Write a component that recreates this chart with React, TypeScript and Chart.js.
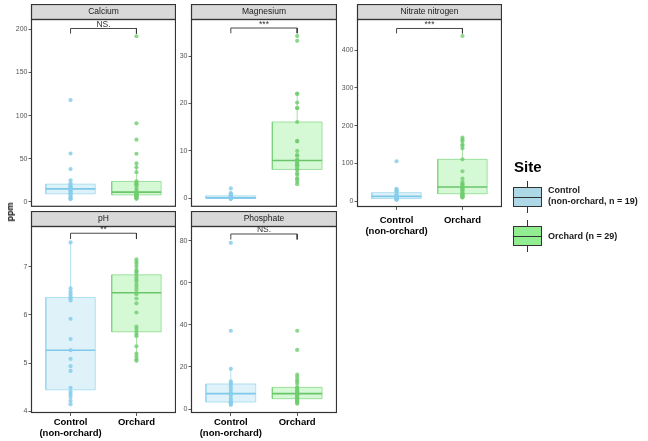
import React, { useEffect, useRef } from "react";
import { Chart, registerables } from "chart.js";

Chart.register(...registerables);

// Site groups, drawn at x = 1 and x = 2
const siteLabels: string[][] = [["Control", "(non-orchard)"], ["Orchard"]];

// Soil measurements per site (Control n = 19, Orchard n = 29)
const calciumControl = [3, 4, 5, 7, 9, 9.6, 10, 12, 13.5, 15, 16, 17, 18, 19.5, 21.5, 25, 38, 56, 118];
const calciumOrchard = [3.5, 4, 5, 5.8, 6.5, 7, 7.7, 8, 8.5, 9, 9.5, 10, 10.5, 11, 11.2, 13.5, 16, 19, 20, 21, 22.5, 23.6, 34.4, 40, 44.5, 55.7, 72, 91, 192];

const magnesiumControl = [0, 0, 0, 0, 0, 0, 0, 0, 0, 0.1, 0.2, 0.3, 0.4, 0.5, 0.6, 0.7, 1.0, 1.1, 2.1];
const magnesiumOrchard = [3, 3.5, 4, 4.2, 5, 5.3, 6, 6.1, 6.5, 7, 7, 7.2, 7.5, 7.8, 8, 8.2, 9, 9.1, 10, 12, 12.1, 16.1, 19, 19.1, 20.2, 22, 22.1, 33.2, 34.2];

const nitrateControl = [4, 5, 6, 7, 7, 7.5, 8, 9, 10, 13, 14, 15, 17, 20, 26, 28, 30, 33, 106];
const nitrateOrchard = [10, 11.5, 12, 13, 15, 17, 19, 20, 22, 25, 29, 31, 33, 36, 38, 41.5, 44, 47, 51, 60, 79.5, 111, 140, 146.6, 150, 159, 163, 168.6, 437];

const phControl = [4.15, 4.22, 4.3, 4.36, 4.41, 4.49, 4.84, 4.94, 5.09, 5.27, 5.5, 5.92, 6.3, 6.34, 6.38, 6.43, 6.48, 6.55, 7.5];
const phOrchard = [5.05, 5.08, 5.14, 5.2, 5.35, 5.56, 5.6, 5.65, 5.71, 5.76, 6.05, 6.24, 6.34, 6.43, 6.46, 6.53, 6.59, 6.64, 6.7, 6.73, 6.78, 6.83, 6.88, 6.9, 6.93, 7.0, 7.06, 7.1, 7.15];

const phosphateControl = [1.9, 2.5, 2.8, 3.0, 3.2, 3.4, 4.4, 5.2, 6.5, 7.3, 7.9, 9.2, 10.3, 11.4, 12.4, 13.1, 19.1, 37.2, 79];
const phosphateOrchard = [2.5, 3.0, 3.3, 3.6, 4.0, 4.4, 4.7, 4.9, 5.3, 5.7, 6.2, 6.5, 6.8, 7.0, 7.3, 7.6, 7.9, 8.4, 8.9, 9.5, 10.0, 10.3, 12, 13.1, 13.9, 15.2, 16.3, 28.1, 37.2];

// Y axis tick labels
const calciumTicks = [0, 50, 100, 150, 200];
const magnesiumTicks = [0, 10, 20, 30];
const nitrateTicks = [0, 100, 200, 300, 400];
const phTicks = [4, 5, 6, 7];
const phosphateTicks = [0, 20, 40, 60, 80];

// Y axis limits [min, max]
const calciumRange = [-5.8, 212];
const magnesiumRange = [-1.77, 37.8];
const nitrateRange = [-15, 482];
const phRange = [3.97, 7.84];
const phosphateRange = [-1.9, 87];

// Significance brackets: [bar height, tip end] and their labels
const calciumBracket = [201, 195];
const magnesiumBracket = [35.9, 34.8];
const nitrateBracket = [457, 444];
const phBracket = [7.69, 7.57];
const phosphateBracket = [83.2, 80.6];
const significance = ["NS.", "***", "***", "**", "NS."];

const FONT = '"Liberation Sans", Arial, sans-serif';

const CONTROL = {
  point: "rgba(135, 206, 235, 0.85)",
  fill: "rgba(135, 206, 235, 0.27)",
  edge: "rgba(135, 206, 235, 0.6)",
  median: "rgba(120, 198, 232, 0.95)",
};
const ORCHARD = {
  point: "rgba(112, 205, 112, 0.8)",
  fill: "rgba(144, 238, 144, 0.38)",
  edge: "rgba(110, 205, 110, 0.6)",
  median: "rgba(100, 195, 100, 0.95)",
};

function quantile(sorted: number[], p: number) {
  const h = (sorted.length - 1) * p;
  const lo = Math.floor(h);
  const hi = Math.min(lo + 1, sorted.length - 1);
  return sorted[lo] + (h - lo) * (sorted[hi] - sorted[lo]);
}

function boxStats(values: number[]) {
  const s = [...values].sort((a, b) => a - b);
  const q1 = quantile(s, 0.25);
  const med = quantile(s, 0.5);
  const q3 = quantile(s, 0.75);
  const iqr = q3 - q1;
  const lowW = Math.min(...s.filter((v) => v >= q1 - 1.5 * iqr));
  const highW = Math.max(...s.filter((v) => v <= q3 + 1.5 * iqr));
  return { q1, med, q3, lowW, highW };
}

function groupDatasets(values: number[], x: number, c: typeof CONTROL) {
  const b = boxStats(values);
  const hw = 0.375;
  return [
    {
      type: "scatter",
      data: values.map((v) => ({ x, y: v })),
      backgroundColor: c.point,
      borderWidth: 0,
      pointRadius: 2.1,
      order: 0,
    },
    {
      type: "line",
      data: [
        { x: x - hw, y: b.med },
        { x: x + hw, y: b.med },
      ],
      borderColor: c.median,
      borderWidth: 1.6,
      pointRadius: 0,
      fill: false,
      order: 1,
    },
    {
      type: "line",
      data: [
        { x: x - hw, y: b.q1 },
        { x: x + hw, y: b.q1 },
        { x: x + hw, y: b.q3 },
        { x: x - hw, y: b.q3 },
        { x: x - hw, y: b.q1 },
      ],
      borderColor: c.edge,
      backgroundColor: c.fill,
      borderWidth: 1,
      pointRadius: 0,
      fill: "shape",
      order: 2,
    },
    {
      type: "line",
      data: [
        { x, y: b.lowW },
        { x, y: b.q1 },
        { x, y: null },
        { x, y: b.q3 },
        { x, y: b.highW },
      ],
      borderColor: c.edge,
      borderWidth: 1,
      pointRadius: 0,
      spanGaps: false,
      fill: false,
      order: 3,
    },
  ];
}

const panelDeco = {
  id: "panelDeco",
  afterDraw(chart: any, _args: any, opts: any) {
    const { ctx, chartArea: a, scales } = chart;
    ctx.save();
    // facet strip
    ctx.fillStyle = "#D9D9D9";
    ctx.fillRect(a.left, a.top - opts.stripH, a.right - a.left, opts.stripH);
    ctx.strokeStyle = "#333";
    ctx.lineWidth = 1.2;
    ctx.strokeRect(a.left + 0.5, a.top - opts.stripH + 0.5, a.right - a.left - 1, opts.stripH);
    ctx.fillStyle = "#1A1A1A";
    ctx.font = `8.5px ${FONT}`;
    ctx.textAlign = "center";
    ctx.textBaseline = "middle";
    ctx.fillText(opts.title, (a.left + a.right) / 2, a.top - opts.stripH / 2 + 0.5);
    // panel frame
    ctx.strokeRect(a.left + 0.5, a.top + 0.5, a.right - a.left - 1, a.bottom - a.top - 1);
    // significance label above the bracket
    const xm = scales.x.getPixelForValue(1.5);
    const yb = scales.y.getPixelForValue(opts.bracketTop);
    ctx.fillStyle = "#333";
    ctx.font = `8.5px ${FONT}`;
    ctx.textBaseline = "alphabetic";
    ctx.fillText(opts.label, xm, yb - 1.5);
    ctx.restore();
  },
};

type PanelProps = {
  title: string;
  label: string;
  control: number[];
  orchard: number[];
  ticks: number[];
  range: number[];
  bracket: number[];
  left: number;
  top: number;
  width: number;
  height: number;
  axisH: number;
  labelPad: number;
};

const STRIP = 15;
const YAXIS = 30;
const BOTTOM_PAD = 5;

function Panel(p: PanelProps) {
  const ref = useRef<HTMLCanvasElement | null>(null);
  useEffect(() => {
    if (!ref.current) return;
    const showX = p.axisH > 0;
    const bracketData = [
      { x: 1, y: p.bracket[1] },
      { x: 1, y: p.bracket[0] },
      { x: 2, y: p.bracket[0] },
      { x: 2, y: p.bracket[1] },
    ];
    const chart = new Chart(ref.current, {
      type: "scatter",
      data: {
        datasets: [
          ...groupDatasets(p.control, 1, CONTROL),
          ...groupDatasets(p.orchard, 2, ORCHARD),
          {
            type: "line",
            data: bracketData,
            borderColor: "#333",
            borderWidth: 0.9,
            pointRadius: 0,
            fill: false,
            order: 0,
          },
        ] as any,
      },
      options: {
        animation: false,
        responsive: false,
        events: [],
        layout: {
          autoPadding: false,
          padding: { top: STRIP, left: 0, right: 0, bottom: showX ? 0 : BOTTOM_PAD },
        },
        plugins: {
          legend: { display: false },
          tooltip: { enabled: false },
          panelDeco: { title: p.title, label: p.label, bracketTop: p.bracket[0], stripH: STRIP },
        } as any,
        scales: {
          x: {
            type: "linear",
            min: 0.4,
            max: 2.6,
            afterBuildTicks: (s: any) => {
              s.ticks = [{ value: 1 }, { value: 2 }];
            },
            afterFit: (s: any) => {
              s.height = p.axisH;
            },
            border: { display: false },
            grid: {
              drawOnChartArea: false,
              drawTicks: showX,
              tickLength: 3,
              color: "#333",
              lineWidth: 0.8,
            },
            ticks: {
              display: showX,
              autoSkip: false,
              maxRotation: 0,
              minRotation: 0,
              padding: p.labelPad,
              color: "#000",
              font: { family: FONT, size: 9.5, weight: "bold", lineHeight: 1.25 },
              callback: (v: any) => siteLabels[Math.round(v) - 1] ?? "",
            },
          },
          y: {
            type: "linear",
            min: p.range[0],
            max: p.range[1],
            afterBuildTicks: (s: any) => {
              s.ticks = p.ticks.map((v) => ({ value: v }));
            },
            afterFit: (s: any) => {
              s.width = YAXIS;
            },
            border: { display: false },
            grid: {
              drawOnChartArea: false,
              tickLength: 2.5,
              color: "#333",
              lineWidth: 0.8,
            },
            ticks: {
              padding: 1,
              color: "#555",
              font: { family: FONT, size: 7 },
            },
          },
        },
      },
      plugins: [panelDeco],
    } as any);
    return () => chart.destroy();
  }, []);
  const cw = YAXIS + p.width;
  const ch = STRIP + p.height + (p.axisH > 0 ? p.axisH : BOTTOM_PAD);
  return (
    <canvas
      ref={ref}
      width={cw}
      height={ch}
      style={{
        position: "absolute",
        left: p.left - YAXIS,
        top: p.top - STRIP,
        width: cw,
        height: ch,
        display: "block",
      }}
    />
  );
}

const panelList: PanelProps[] = [
  { title: "Calcium", label: significance[0], control: calciumControl, orchard: calciumOrchard, ticks: calciumTicks, range: calciumRange, bracket: calciumBracket, left: 31, top: 19, width: 145, height: 188, axisH: 0, labelPad: 0 },
  { title: "Magnesium", label: significance[1], control: magnesiumControl, orchard: magnesiumOrchard, ticks: magnesiumTicks, range: magnesiumRange, bracket: magnesiumBracket, left: 191, top: 19, width: 146, height: 188, axisH: 0, labelPad: 0 },
  { title: "Nitrate nitrogen", label: significance[2], control: nitrateControl, orchard: nitrateOrchard, ticks: nitrateTicks, range: nitrateRange, bracket: nitrateBracket, left: 357, top: 19, width: 145, height: 188, axisH: 34, labelPad: 4 },
  { title: "pH", label: significance[3], control: phControl, orchard: phOrchard, ticks: phTicks, range: phRange, bracket: phBracket, left: 31, top: 226, width: 145, height: 187, axisH: 28, labelPad: 0 },
  { title: "Phosphate", label: significance[4], control: phosphateControl, orchard: phosphateOrchard, ticks: phosphateTicks, range: phosphateRange, bracket: phosphateBracket, left: 191, top: 226, width: 146, height: 187, axisH: 28, labelPad: 0 },
];

function LegendKey({ top, fill }: { top: number; fill: string }) {
  return (
    <>
      <div style={{ position: "absolute", left: 527, top: top - 6, width: 1, height: 32, background: "#333" }} />
      <div
        style={{
          position: "absolute",
          left: 513,
          top,
          width: 27,
          height: 18,
          border: "1px solid #333",
          background: fill,
        }}
      />
      <div style={{ position: "absolute", left: 513, top: top + 9.5, width: 29, height: 1, background: "#333" }} />
    </>
  );
}

export default function App() {
  const text = { position: "absolute" as const, fontFamily: FONT, color: "#1A1A1A", whiteSpace: "nowrap" as const };
  return (
    <div style={{ position: "absolute", left: 0, top: 0, width: 648, height: 441, background: "#fff", overflow: "hidden" }}>
      {panelList.map((p) => (
        <Panel key={p.title} {...p} />
      ))}
      <div
        style={{
          ...text,
          left: 10,
          top: 212,
          fontSize: 9,
          fontWeight: "bold",
          color: "#000",
          transform: "translate(-50%, -50%) rotate(-90deg)",
          lineHeight: "10px",
        }}
      >
        ppm
      </div>
      <div style={{ ...text, left: 514, top: 159, fontSize: 15, fontWeight: "bold", lineHeight: "16px", color: "#000" }}>Site</div>
      <LegendKey top={187} fill="#ADD8E6" />
      <LegendKey top={226} fill="#90EE90" />
      <div style={{ ...text, left: 548, top: 185, fontSize: 9, fontWeight: "bold", lineHeight: "10.5px" }}>
        Control
        <br />
        (non-orchard, n = 19)
      </div>
      <div style={{ ...text, left: 548, top: 230.5, fontSize: 9, fontWeight: "bold", lineHeight: "10.5px" }}>Orchard (n = 29)</div>
    </div>
  );
}
